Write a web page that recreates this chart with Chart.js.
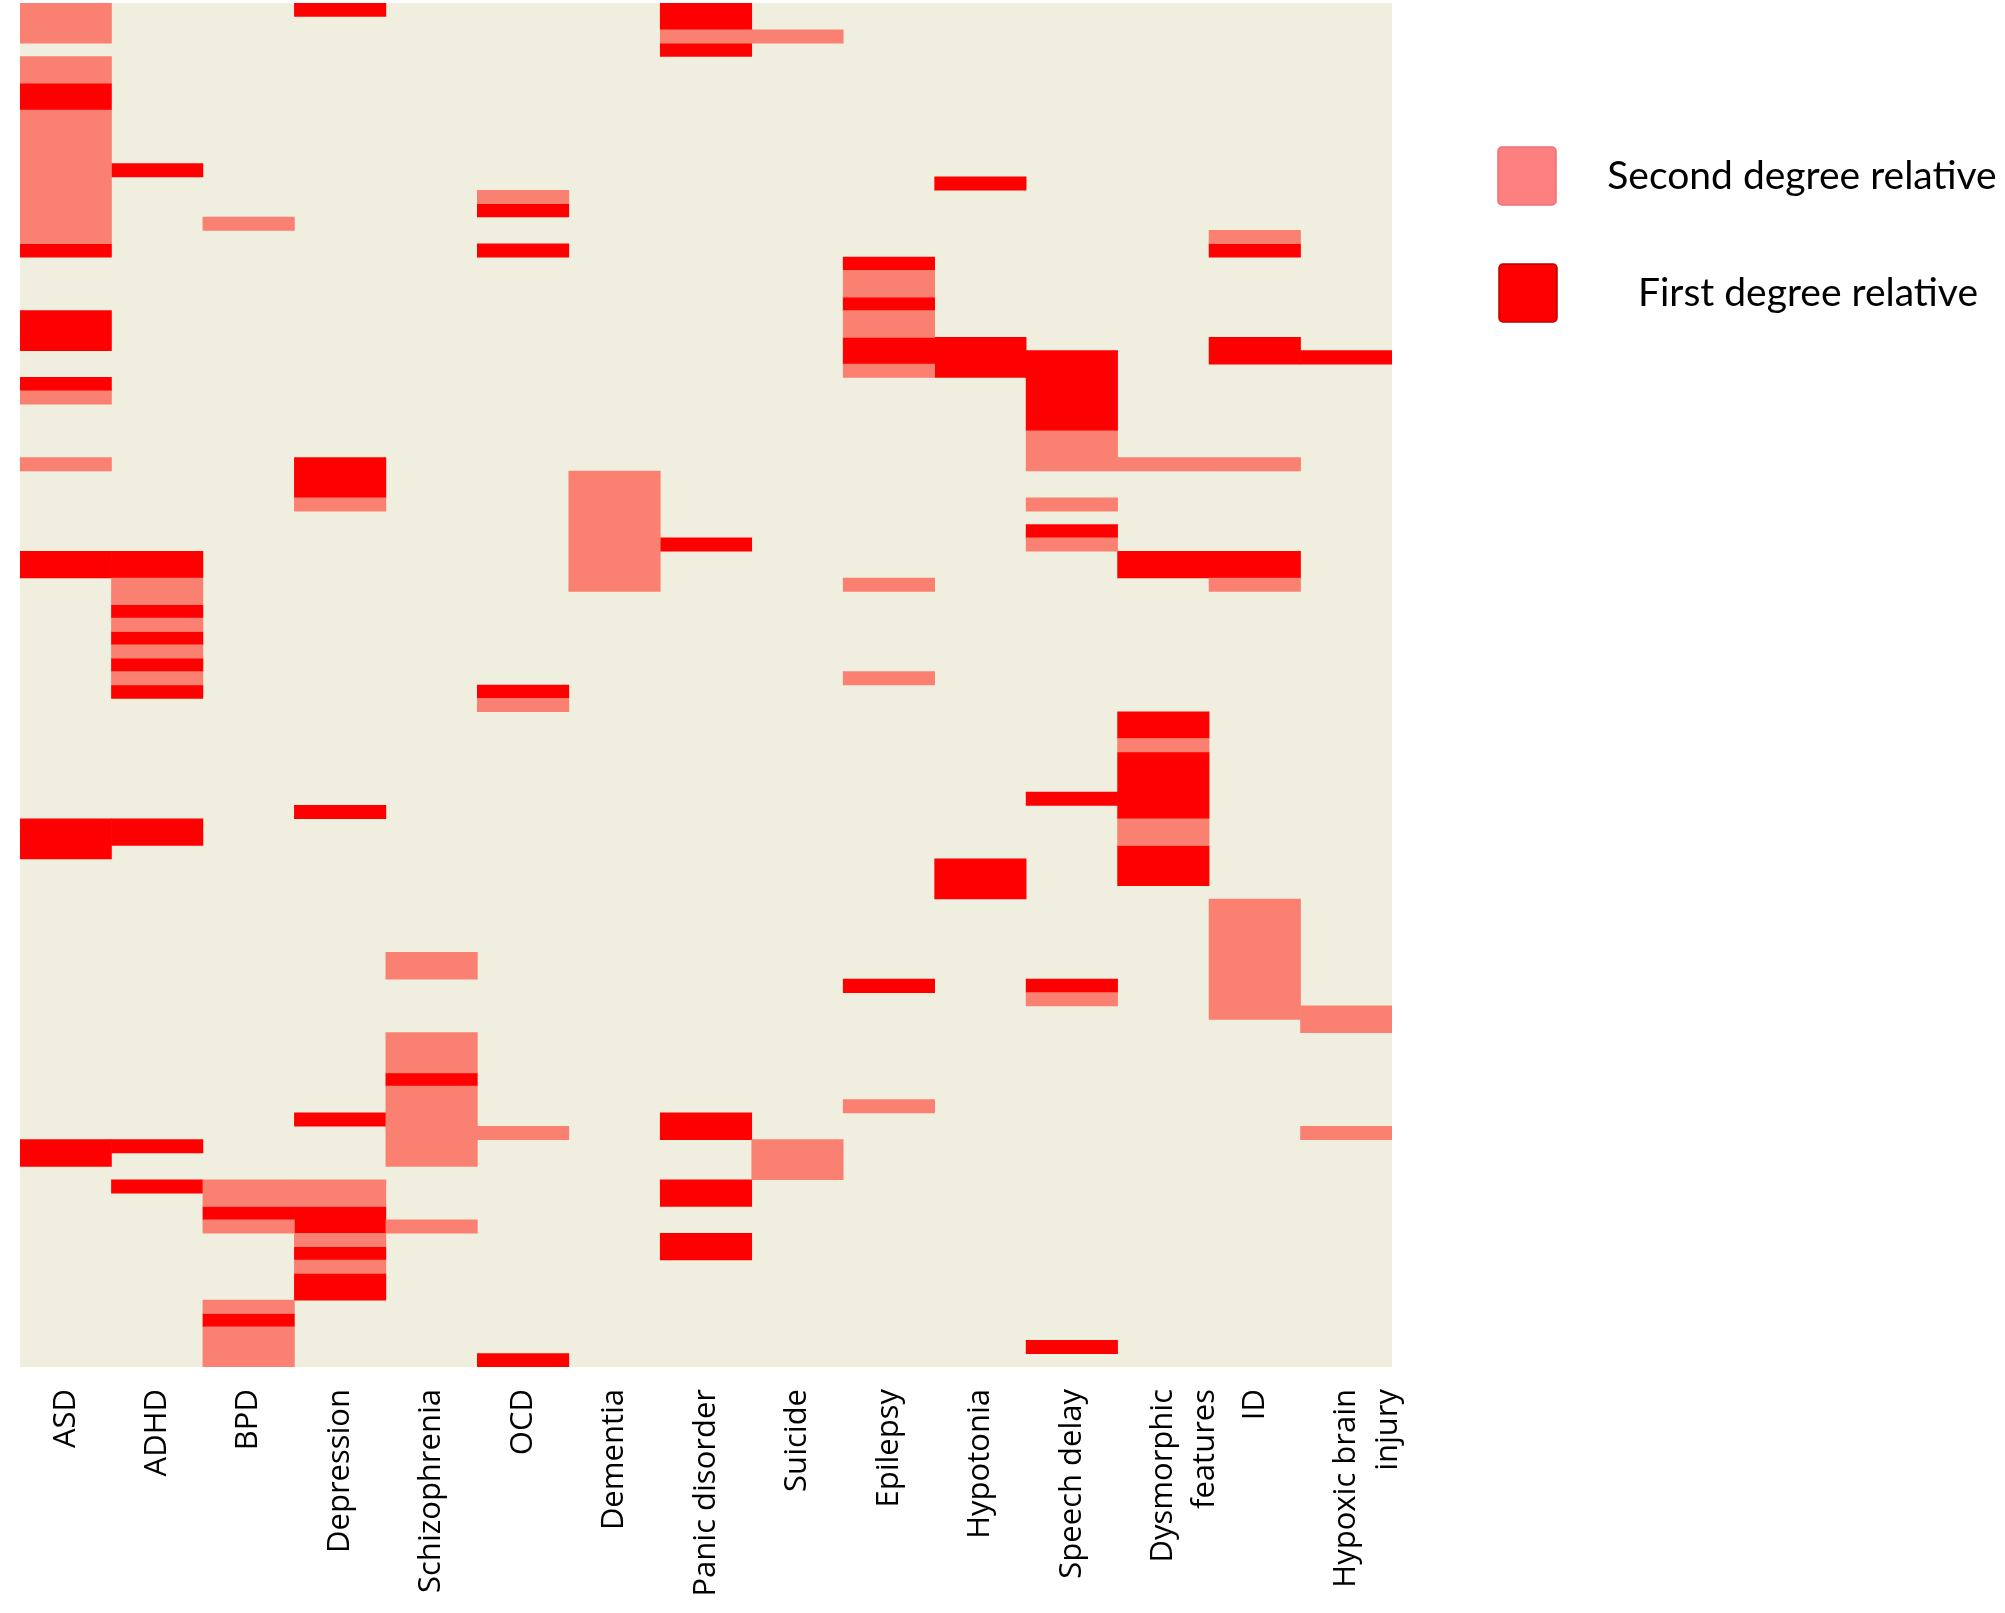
<!DOCTYPE html>
<html>
<head>
<meta charset="utf-8">
<script src="https://cdn.jsdelivr.net/npm/chart.js@4/dist/chart.umd.min.js"></script>
<style>
  html, body { margin: 0; padding: 0; background: #fff; }
  #wrap { width: 2005px; height: 1613px; }
</style>
</head>
<body>
<div id="wrap"><canvas id="heatmap" width="2005" height="1613"></canvas></div>
<script>
// conditions on the x axis
const categories = ['ASD', 'ADHD', 'BPD', 'Depression', 'Schizophrenia', 'OCD', 'Dementia',
    'Panic disorder', 'Suicide', 'Epilepsy', 'Hypotonia', 'Speech delay',
    'Dysmorphic features', 'ID', 'Hypoxic brain injury'];

// how the tick labels break over lines
const tickLabels = ['ASD', 'ADHD', 'BPD', 'Depression', 'Schizophrenia', 'OCD', 'Dementia',
    'Panic disorder', 'Suicide', 'Epilepsy', 'Hypotonia', 'Speech delay',
    ['Dysmorphic', 'features'], 'ID', ['Hypoxic brain', 'injury']];

// one row per patient, counted from the top
const patientCount = 102;

// rows with a first degree relative, per condition
const firstDegreeRows = [
    [6, 7, 18, 23, 24, 25, 28, 41, 42, 61, 62, 63, 85, 86],
    [12, 41, 42, 45, 47, 49, 51, 61, 62, 85, 88],
    [90, 98],
    [0, 34, 35, 36, 60, 83, 90, 91, 93, 95, 96],
    [80],
    [15, 18, 51, 101],
    [],
    [0, 1, 3, 40, 83, 84, 88, 89, 92, 93],
    [],
    [19, 22, 25, 26, 73],
    [13, 25, 26, 27, 64, 65, 66],
    [26, 27, 28, 29, 30, 31, 39, 59, 73, 100],
    [41, 42, 53, 54, 56, 57, 58, 59, 60, 63, 64, 65],
    [18, 25, 26, 41, 42],
    [26]
];

// rows with a second degree relative, per condition
const secondDegreeRows = [
    [0, 1, 2, 4, 5, 8, 9, 10, 11, 12, 13, 14, 15, 16, 17, 29, 34],
    [43, 44, 46, 48, 50],
    [16, 88, 89, 91, 97, 99, 100, 101],
    [37, 88, 89, 92, 94],
    [71, 72, 77, 78, 79, 81, 82, 83, 84, 85, 86, 91],
    [14, 52, 84],
    [35, 36, 37, 38, 39, 40, 41, 42, 43],
    [2],
    [2, 85, 86, 87],
    [20, 21, 23, 24, 27, 43, 50, 82],
    [],
    [32, 33, 34, 37, 40, 74],
    [34, 55, 61, 62],
    [17, 34, 43, 67, 68, 69, 70, 71, 72, 73, 74, 75],
    [75, 76, 84]
];

const BG = '#f0eedf';
const SALMON = '#fa8072';
const RED = '#ff0000';

// join neighbouring rows into one floating bar so no seams show
function toRuns(rowsPerCol) {
    const out = [];
    rowsPerCol.forEach((rows, col) => {
        const sorted = rows.slice().sort((a, b) => a - b);
        let start = null, prev = null;
        sorted.forEach(r => {
            if (start === null) { start = r; prev = r; return; }
            if (r === prev + 1) { prev = r; return; }
            out.push({ x: categories[col], y: [start, prev + 1] });
            start = r; prev = r;
        });
        if (start !== null) out.push({ x: categories[col], y: [start, prev + 1] });
    });
    return out;
}

const plotBackground = {
    id: 'plotBackground',
    beforeDatasetsDraw(chart) {
        const { ctx, chartArea: a } = chart;
        ctx.save();
        ctx.fillStyle = BG;
        ctx.fillRect(a.left, a.top, a.right - a.left, a.bottom - a.top);
        ctx.restore();
    }
};

// legend drawn by hand, text centred beside the boxes like the original
const sideLegend = {
    id: 'sideLegend',
    afterDraw(chart) {
        const ctx = chart.ctx;
        const items = [
            { ds: chart.data.datasets[0], box: [1498, 147], fill: '#ff8080', stroke: '#f07070', tx: 1802, ty: 176 },
            { ds: chart.data.datasets[1], box: [1499, 264], fill: '#ff0000', stroke: '#c00000', tx: 1808, ty: 293 }
        ];
        ctx.save();
        ctx.font = '39px Lato';
        ctx.textAlign = 'center';
        ctx.textBaseline = 'middle';
        items.forEach(it => {
            ctx.beginPath();
            ctx.roundRect(it.box[0], it.box[1], 58, 58, 4);
            ctx.fillStyle = it.fill;
            ctx.fill();
            ctx.lineWidth = 1.5;
            ctx.strokeStyle = it.stroke;
            ctx.stroke();
            ctx.fillStyle = '#000';
            ctx.fillText(it.ds.label, it.tx, it.ty);
        });
        ctx.restore();
    }
};

new Chart(document.getElementById('heatmap'), {
    type: 'bar',
    data: {
        labels: categories,
        datasets: [{
            label: 'Second degree relative',
            data: toRuns(secondDegreeRows),
            backgroundColor: SALMON
        }, {
            label: 'First degree relative',
            data: toRuns(firstDegreeRows),
            backgroundColor: RED
        }]
    },
    options: {
        responsive: false,
        animation: false,
        devicePixelRatio: 1,
        layout: { padding: { left: 20, top: 3, right: 613, bottom: 0 } },
        datasets: {
            bar: {
                grouped: false,
                barPercentage: 1,
                categoryPercentage: 1,
                borderWidth: 0,
                borderSkipped: false
            }
        },
        plugins: {
            legend: { display: false },
            tooltip: { enabled: false }
        },
        scales: {
            x: {
                type: 'category',
                grid: { display: false, drawTicks: false },
                border: { display: false },
                ticks: {
                    autoSkip: false,
                    minRotation: 90,
                    maxRotation: 90,
                    padding: 22,
                    color: '#000',
                    font: { family: 'Open Sans', size: 31, lineHeight: 1.35 },
                    callback: (value, i) => tickLabels[i]
                },
                afterFit(scale) { scale.height = 246; }
            },
            y: {
                display: false,
                reverse: true,
                min: 0,
                max: patientCount
            }
        }
    },
    plugins: [plotBackground, sideLegend]
});
</script>
</body>
</html>
